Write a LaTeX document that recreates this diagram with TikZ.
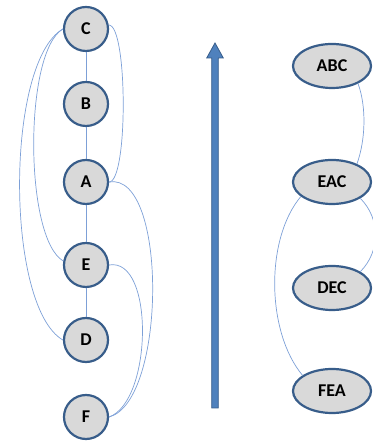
\documentclass[tikz,border=0pt]{standalone}
\usepackage{fontspec}
\setmainfont{Carlito}
\usepackage{tikz}
\usepackage{color}
\usetikzlibrary{shapes.geometric}
\definecolor{nodeborder}{RGB}{56,93,138}
\definecolor{nodefill}{RGB}{217,217,217}
\definecolor{edgeblue}{RGB}{125,160,215}
\definecolor{arrowblue}{RGB}{79,129,189}

\begin{document}
\begin{tikzpicture}[x=1pt,y=1pt,
 vertex/.style={circle,draw=nodeborder,fill=nodefill,line width=2.2pt,minimum size=44pt,inner sep=0pt,font=\fontsize{18}{20}\selectfont\bfseries},
 state/.style={ellipse,draw=nodeborder,fill=nodefill,line width=2.2pt,minimum width=78pt,minimum height=44pt,inner sep=0pt,font=\fontsize{18}{20}\selectfont\bfseries},
 edge/.style={edgeblue,line width=0.7pt}]

 \useasboundingbox (0,0) rectangle (372,443);
 % the big arrow in the middle
 \filldraw[fill=arrowblue,draw=nodeborder,line width=0.8pt] (211.7,35) -- (211.7,385) -- (206.7,385) -- (215,400) -- (223.3,385) -- (218.3,385) -- (218.3,35) -- cycle;

 % left tree
 \draw (86,414) node[vertex](C){C};
 \draw (86,339) node[vertex](B){B};
 \draw (86,261) node[vertex](A){A};
 \draw (86,178) node[vertex](E){E};
 \draw (86,103) node[vertex](D){D};
 \draw (86,26) node[vertex](F){F};
 \foreach \a/\b in {C/B,B/A,A/E,E/D} {   % straight links
 \draw[edge] (\a) -- (\b);
 }
 \draw[edge] (C.west) to [out=210,in=150,looseness=0.5] (E.170);
 \draw[edge] (C.west) to [out=210,in=150,looseness=0.55] (D.west);
 \draw[edge] (C.10) to [out=0,in=0,looseness=0.31] (A.east);
 \draw[edge] (A.east) to [out=10,in=15,looseness=0.65] (F.east);
 \draw[edge] (E.east) to [out=10,in=20,looseness=0.78] (F.east);

 % right chain
 \draw (332,377) node[state](ABC){ABC};
 \draw (332,261) node[state](EAC){EAC};
 \draw (332,155) node[state](DEC){DEC};
 \draw (332,52) node[state](FEA){FEA};
 \draw[edge] (ABC.-34) to [out=-70,in=70,looseness=0.8] (EAC.36);
 \draw[edge] (EAC.205) to [out=230,in=130,looseness=0.8] (FEA.152);
 \draw[edge] (EAC.-30) to [out=-45,in=45,looseness=1] (DEC.30);

\end{tikzpicture}
\end{document}
